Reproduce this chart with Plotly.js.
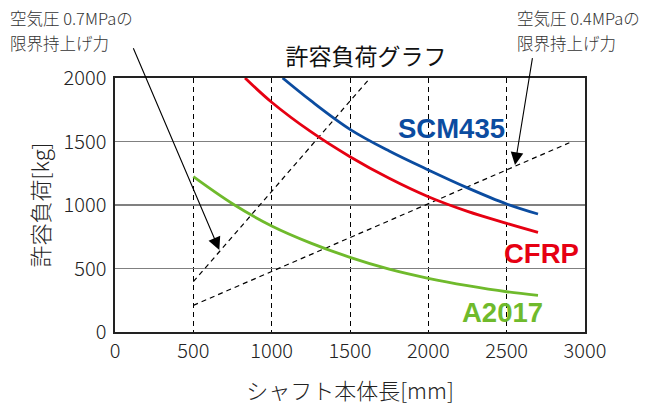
<!DOCTYPE html>
<html>
<head>
<meta charset="utf-8">
<script src="https://cdn.plot.ly/plotly-3.0.1.min.js"></script>
<style>html,body{margin:0;padding:0;background:#fff;}#chart{width:663px;height:406px;}</style>
</head>
<body>
<div id="chart"></div>
<script>
// ---- data ----
const scmX = [1070, 1250, 1500, 1750, 2000, 2250, 2500, 2700];
const scmY = [2000, 1821, 1596, 1425, 1276, 1135, 1008, 929];
const cfrpX = [830, 1000, 1250, 1500, 1750, 2000, 2250, 2500, 2700];
const cfrpY = [2000, 1809, 1577, 1380, 1210, 1065, 950, 856, 785];
const a2017X = [500, 750, 1000, 1250, 1500, 1750, 2000, 2250, 2500, 2700];
const a2017Y = [1223, 1010, 835, 700, 588, 495, 423, 365, 317, 289];
const p07X = [500, 1628];
const p07Y = [396, 2000];
const p04X = [500, 2900];
const p04Y = [210, 1490];
const xTicks = [0, 500, 1000, 1500, 2000, 2500, 3000];
const yTicks = [0, 500, 1000, 1500, 2000];
const arrow07 = {tail: [113, 2246], tip: [666, 646]};
const arrow04 = {tail: [2666, 2168], tip: [2553, 1315]};
const labels = {
  title: '許容負荷グラフ',
  xTitle: 'シャフト本体長[mm]',
  yTitle: '許容負荷[kg]',
  note07: ['空気圧 0.7MPaの', '限界持上げ力'],
  note04: ['空気圧 0.4MPaの', '限界持上げ力'],
  scm: 'SCM435', cfrp: 'CFRP', a2017: 'A2017'
};
const blue = '#0b4ca0', red = '#e60012', green = '#6fba2c';
const jp = '"Noto Sans CJK JP", "Noto Sans", sans-serif';
const bold = '"Liberation Sans", Arial, sans-serif';

const traces = [
  {x: p07X, y: p07Y, mode: 'lines', line: {color: '#000', width: 1.2, dash: '5px,4px'}, hoverinfo: 'skip'},
  {x: p04X, y: p04Y, mode: 'lines', line: {color: '#000', width: 1.2, dash: '5px,4px'}, hoverinfo: 'skip'},
  {x: a2017X, y: a2017Y, mode: 'lines', line: {color: green, width: 2.8, shape: 'spline'}},
  {x: cfrpX, y: cfrpY, mode: 'lines', line: {color: red, width: 2.8, shape: 'spline'}},
  {x: scmX, y: scmY, mode: 'lines', line: {color: blue, width: 2.8, shape: 'spline'}}
];

// note lines placed by pixel rows (converted to paper coords of the 254px-tall plot)
function noteLine(txt, xp, pyCenter) {
  return {text: txt, xref: 'paper', yref: 'paper', x: xp, y: (332 - pyCenter) / 254, xanchor: 'left', yanchor: 'middle',
    align: 'left', showarrow: false, font: {family: jp, size: 16.5, color: '#333', weight: 300}};
}
function arrow(a) {
  return {text: '', xref: 'x', yref: 'y', axref: 'x', ayref: 'y', x: a.tip[0], y: a.tip[1],
    ax: a.tail[0], ay: a.tail[1], showarrow: true, arrowhead: 2, arrowsize: 2.3, arrowwidth: 1.1,
    arrowcolor: '#000', standoff: 0, startstandoff: 0};
}
function seriesLabel(txt, x, y, color) {
  return {text: txt, xref: 'x', yref: 'y', x: x, y: y, showarrow: false, xanchor: 'center', yanchor: 'middle',
    font: {family: bold, size: 27.5, color: color, weight: 'bold'}};
}

const layout = {
  width: 663, height: 406,
  margin: {l: 115, r: 78, t: 78, b: 74},
  paper_bgcolor: '#fff', plot_bgcolor: '#fff',
  showlegend: false,
  title: {text: labels.title, font: {family: jp, size: 23, color: '#111'},
    xref: 'paper', x: 0.534, xanchor: 'center', yref: 'container', y: 1 - 57/406, yanchor: 'middle'},
  xaxis: {range: [0, 3000], tickvals: xTicks, ticktext: xTicks.map(String), ticks: '',
    showgrid: true, gridcolor: '#000', gridwidth: 1, griddash: '5px,4px', zeroline: false,
    showline: true, linecolor: '#222', linewidth: 1.6, mirror: true,
    tickfont: {family: jp, size: 20, color: '#222', weight: 300},
    title: {text: labels.xTitle, font: {family: jp, size: 22, color: '#222', weight: 300}, standoff: 21},
    fixedrange: true},
  yaxis: {range: [0, 2000], tickvals: yTicks, ticktext: yTicks.map(String), ticks: '',
    showgrid: true, gridcolor: '#808080', gridwidth: 1.6, zeroline: false,
    showline: true, linecolor: '#222', linewidth: 1.6, mirror: true,
    tickfont: {family: jp, size: 20, color: '#222', weight: 300}, ticklabelstandoff: 3,
    title: {text: labels.yTitle, font: {family: jp, size: 22, color: '#222', weight: 300}, standoff: 8},
    fixedrange: true},
  shapes: [
    {type: 'line', xref: 'paper', yref: 'y', x0: 0, x1: 1, y0: 1000, y1: 1000, layer: 'between',
      line: {color: '#000', width: 1.1}}
  ],
  annotations: [
    noteLine(labels.note07[0], -0.2277, 18.5),
    noteLine(labels.note07[1], -0.2277, 42.5),
    noteLine(labels.note04[0], 0.8511, 18.5),
    noteLine(labels.note04[1], 0.8511, 42.5),
    arrow(arrow07), arrow(arrow04),
    seriesLabel(labels.scm, 2145, 1606, blue),
    seriesLabel(labels.cfrp, 2725, 622, red),
    seriesLabel(labels.a2017, 2473, 157, green)
  ]
};
Plotly.newPlot('chart', traces, layout, {displayModeBar: false, staticPlot: true});
</script>
</body>
</html>
